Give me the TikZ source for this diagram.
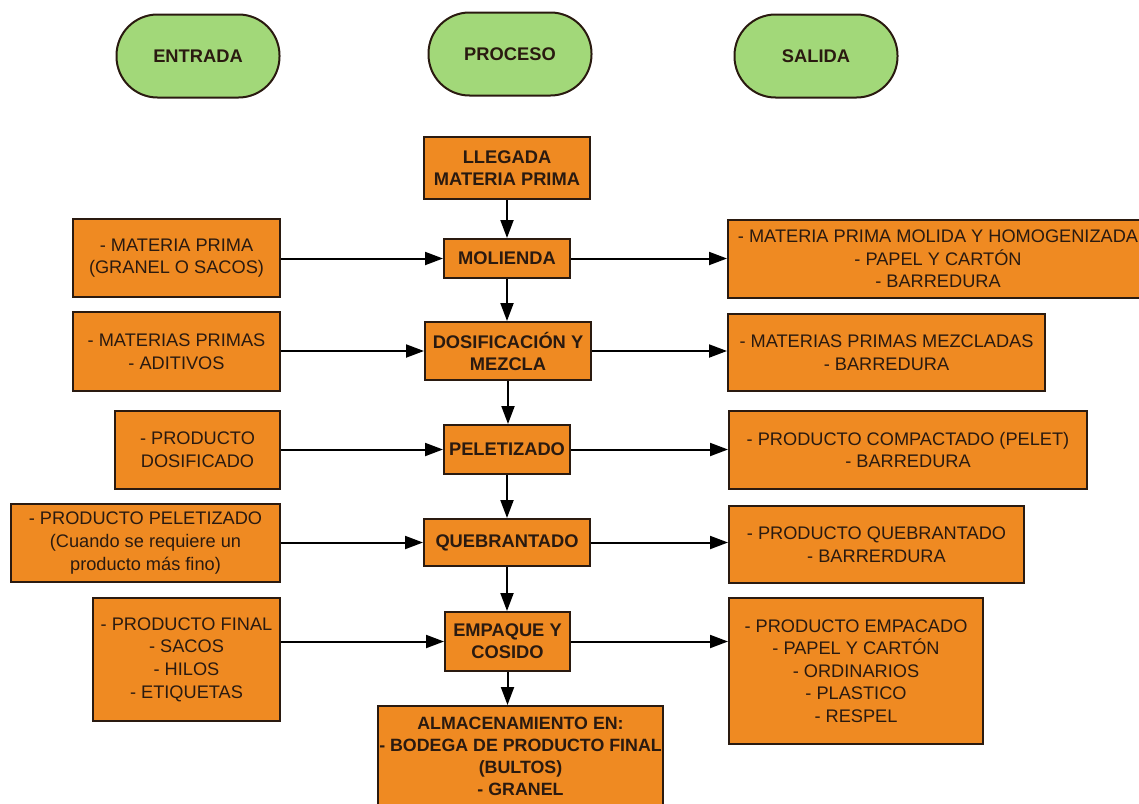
\documentclass[tikz,border=0pt]{standalone}
\usepackage{fontspec}
\setmainfont{Liberation Sans}
\usetikzlibrary{arrows.meta}
\definecolor{orangefill}{HTML}{EF8A22}
\definecolor{greenfill}{HTML}{A2D879}
\definecolor{inkdark}{HTML}{2A1A10}
\tikzset{
  base/.style={draw=inkdark, line width=2pt, inner sep=0pt, align=center, text=inkdark},
  procbox/.style={base, fill=orangefill, font=\fontsize{18.3}{22}\selectfont\bfseries},
  iobox/.style={base, fill=orangefill, font=\fontsize{18.2}{22.6}\selectfont},
  pill/.style={base, fill=greenfill, rounded corners=41pt, minimum width=163pt, minimum height=83pt, font=\fontsize{18.3}{22}\selectfont\bfseries},
  arr/.style={draw=black, line width=2pt, -{Triangle[length=18pt,width=13pt]}}
}
\begin{document}
\begin{tikzpicture}[x=1pt,y=-1pt]
\useasboundingbox (0,0) rectangle (1139,803);
% header pills
\node[pill] (entrada) at (198,56) {ENTRADA};
\node[pill] (proceso) at (510,54) {PROCESO};
\node[pill] (salida) at (816,56) {SALIDA};
% process column
\node[procbox, minimum width=166pt, minimum height=62pt] (llegada) at (507,168) {LLEGADA\\MATERIA PRIMA};
\node[procbox, minimum width=126pt, minimum height=39pt] (mol) at (507,258.5) {MOLIENDA};
\node[procbox, minimum width=166pt, minimum height=58pt] (dos) at (508,351) {DOSIFICACIÓN Y\\MEZCLA};
\node[procbox, minimum width=126pt, minimum height=49pt] (pel) at (507,449.5) {PELETIZADO};
\node[procbox, minimum width=166pt, minimum height=47pt] (que) at (507,542.5) {QUEBRANTADO};
\node[procbox, minimum width=125pt, minimum height=59pt] (emp) at (507.5,641.5) {EMPAQUE Y\\COSIDO};
\node[procbox, minimum width=285pt, minimum height=100pt, font=\fontsize{17.8}{22}\selectfont\bfseries] (alm) at (520.5,756) {ALMACENAMIENTO EN:\\- BODEGA DE PRODUCTO FINAL\\(BULTOS)\\- GRANEL};
% inputs
\node[iobox, minimum width=207pt, minimum height=78pt] (in1) at (176.5,258) {- MATERIA PRIMA\\(GRANEL O SACOS)};
\node[iobox, minimum width=207pt, minimum height=79pt] (in2) at (176.5,351.5) {- MATERIAS PRIMAS\\- ADITIVOS};
\node[iobox, minimum width=165pt, minimum height=78pt] (in3) at (197.5,450) {- PRODUCTO\\DOSIFICADO};
\node[iobox, minimum width=269pt, minimum height=78pt] (in4) at (145.5,543) {- PRODUCTO PELETIZADO\\(Cuando se requiere un\\producto más fino)};
\node[iobox, minimum width=187pt, minimum height=123pt] (in5) at (186.5,659.5) {- PRODUCTO FINAL\\- SACOS\\- HILOS\\- ETIQUETAS};
% outputs
\node[iobox, minimum width=420pt, minimum height=78pt] (out1) at (938,259) {- MATERIA PRIMA MOLIDA Y HOMOGENIZADA\\- PAPEL Y CARTÓN\\- BARREDURA};
\node[iobox, minimum width=317pt, minimum height=77pt] (out2) at (886.5,352.5) {- MATERIAS PRIMAS MEZCLADAS\\- BARREDURA};
\node[iobox, minimum width=358pt, minimum height=78pt] (out3) at (908,450) {- PRODUCTO COMPACTADO (PELET)\\- BARREDURA};
\node[iobox, minimum width=295pt, minimum height=77pt] (out4) at (876.5,544.5) {- PRODUCTO QUEBRANTADO\\- BARRERDURA};
\node[iobox, minimum width=254pt, minimum height=146pt] (out5) at (856,671) {- PRODUCTO EMPACADO\\- PAPEL Y CARTÓN\\- ORDINARIOS\\- PLASTICO\\- RESPEL};
% vertical flow
\draw[arr] (llegada.south) -- (mol.north);
\draw[arr] (mol.south) -- (mol.south |- dos.north);
\draw[arr] (dos.south) -- (dos.south |- pel.north);
\draw[arr] (pel.south) -- (pel.south |- que.north);
\draw[arr] (que.south) -- (que.south |- emp.north);
\draw[arr] (emp.south) -- (emp.south |- alm.north);
% inputs to process
\draw[arr] (in1.east |- mol.west) -- (mol.west);
\draw[arr] (in2.east |- dos.west) -- (dos.west);
\draw[arr] (in3.east |- pel.west) -- (pel.west);
\draw[arr] (in4.east |- que.west) -- (que.west);
\draw[arr] (in5.east |- emp.west) -- (emp.west);
% process to outputs
\draw[arr] (mol.east) -- (mol.east -| out1.west);
\draw[arr] (dos.east) -- (dos.east -| out2.west);
\draw[arr] (pel.east) -- (pel.east -| out3.west);
\draw[arr] (que.east) -- (que.east -| out4.west);
\draw[arr] (emp.east) -- (emp.east -| out5.west);
\end{tikzpicture}
\end{document}
